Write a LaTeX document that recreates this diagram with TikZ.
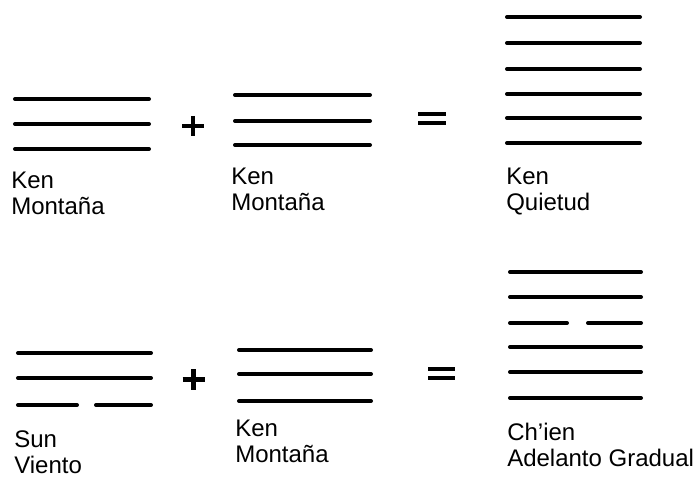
\documentclass[tikz,border=0pt]{standalone}
\usepackage{fontspec}
\setmainfont{Liberation Sans}
\usepackage{tikz}
\usetikzlibrary{positioning}

\tikzset{linea/.style={line width=0.1cm, line cap=round},
         signo/.style={line width=0.12cm},
         rotulo/.style={anchor=north west, inner sep=0pt, align=left,
                        font=\fontsize{17.07pt}{18.5pt}\selectfont}}

\begin{document}
\begin{tikzpicture}
\useasboundingbox (0,0) rectangle (17.425,-11.925);

%% fila de arriba
\draw[linea] (0.375,-2.475) -- (3.725,-2.475);
\draw[linea] (0.375,-3.1) -- (3.725,-3.1);
\draw[linea] (0.375,-3.725) -- (3.725,-3.725);

\draw[signo] (4.55,-3.15) -- (5.1,-3.15);
\draw[signo] (4.825,-2.9) -- (4.825,-3.4);

\draw[linea] (5.875,-2.375) -- (9.25,-2.375);
\draw[linea] (5.875,-3.025) -- (9.25,-3.025);
\draw[linea] (5.875,-3.625) -- (9.25,-3.625);

\draw[signo] (10.45,-2.85) -- (11.15,-2.85);
\draw[signo] (10.45,-3.075) -- (11.15,-3.075);

\draw[linea] (12.675,-0.425) -- (16.0,-0.425);
\draw[linea] (12.675,-1.075) -- (16.0,-1.075);
\draw[linea] (12.675,-1.725) -- (16.0,-1.725);
\draw[linea] (12.675,-2.35) -- (16.0,-2.35);
\draw[linea] (12.675,-2.95) -- (16.0,-2.95);
\draw[linea] (12.675,-3.575) -- (16.0,-3.575);

		\node[rotulo] (ken1) at (0.275,-4.3){Ken\\Montaña};
		\node[rotulo] (ken2) at (5.775,-4.2){Ken\\Montaña};
		\node[rotulo] (ken3) at (12.65,-4.2){Ken\\Quietud};

%% fila de abajo
\draw[linea] (0.45,-8.825) -- (3.775,-8.825);
\draw[linea] (0.45,-9.45) -- (3.775,-9.45);
\draw[linea] (0.45,-10.125) -- (1.925,-10.125);
\draw[linea] (2.4,-10.125) -- (3.775,-10.125);

\draw[signo] (4.565,-9.49) -- (5.115,-9.49);
\draw[signo] (4.84,-9.23) -- (4.84,-9.75);

\draw[linea] (5.975,-8.75) -- (9.275,-8.75);
\draw[linea] (5.975,-9.35) -- (9.275,-9.35);
\draw[linea] (5.975,-10.025) -- (9.275,-10.025);

\draw[signo] (10.7,-9.225) -- (11.375,-9.225);
\draw[signo] (10.7,-9.45) -- (11.375,-9.45);

\draw[linea] (12.75,-6.8) -- (16.025,-6.8);
\draw[linea] (12.75,-7.425) -- (16.025,-7.425);
\draw[linea] (12.75,-8.075) -- (14.175,-8.075);
\draw[linea] (14.7,-8.075) -- (16.025,-8.075);
\draw[linea] (12.75,-8.675) -- (16.025,-8.675);
\draw[linea] (12.75,-9.3) -- (16.025,-9.3);
\draw[linea] (12.75,-9.95) -- (16.025,-9.95);

		\node[rotulo] (sun) at (0.35,-10.75){Sun\\Viento};
		\node[rotulo] (ken4) at (5.875,-10.5){Ken\\Montaña};
		\node[rotulo] (chien) at (12.675,-10.575){Ch’ien\\Adelanto Gradual};

\end{tikzpicture}
\end{document}
